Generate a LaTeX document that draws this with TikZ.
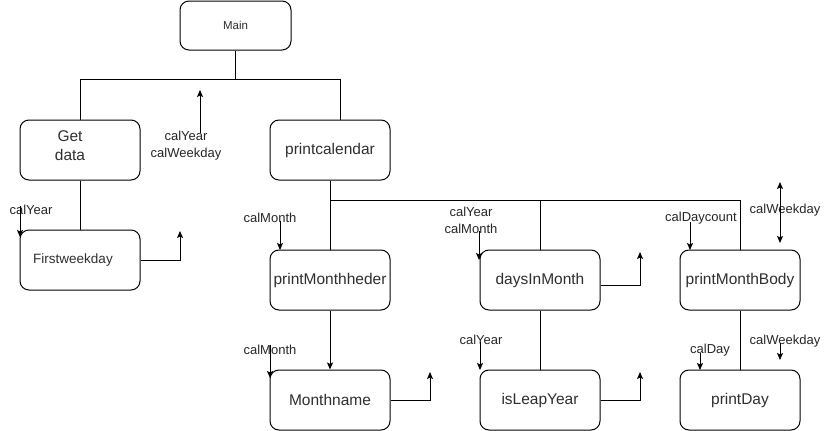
\documentclass[tikz,border=0pt]{standalone}
\usepackage{fontspec}
\setmainfont{Liberation Sans}
\usetikzlibrary{arrows.meta}

\begin{document}
\begin{tikzpicture}[x=1pt, y=-1pt, line width=1pt, >={Stealth[length=7pt,width=6pt,inset=1.5pt]},
  box/.style={draw, rounded corners=9pt, minimum width=120pt, minimum height=60pt, inner sep=2pt, align=center, text=black!82, font=\fontsize{15.5}{19}\selectfont},
  inbox/.style={align=center, text=black!82, font=\fontsize{15.5}{19}\selectfont},
  lbl/.style={inner sep=0pt, align=center, text=black!85, font=\fontsize{13}{17}\selectfont}]
\useasboundingbox (0,0) rectangle (831,431);
\node[box, minimum width=111pt, minimum height=49pt, font=\fontsize{11.5}{14}\selectfont] (Main) at (235.5,25.5) {Main};
\node[box, label={[inbox, xshift=-10pt, yshift=4pt]center:Get\\data}] (GetData) at (80,150) {};
\node[box, label={[inbox, xshift=-7pt, font=\fontsize{13.5}{16}\selectfont]center:Firstweekday}] (FirstWk) at (80,260) {};
\node[box] (PrintCal) at (330,150) {printcalendar};
\node[box] (MonHead) at (330,280) {printMonthheder};
\node[box] (DaysIn) at (540,280) {daysInMonth};
\node[box] (MonBody) at (740,280) {printMonthBody};
\node[box] (MonName) at (330,400) {Monthname};
\node[box] (LeapYr) at (540,400) {isLeapYear};
\node[box] (PrDay) at (740,400) {printDay};
% call tree
\draw (Main.south) -- ++(0,29) coordinate (mainBus);
\draw (GetData.north) |- (mainBus) -| ([xshift=10pt]PrintCal.north);
\draw (GetData.south) -- (FirstWk.north);
\draw (PrintCal.south) -- ++(0,20) coordinate (calBus);
\draw (calBus) -| (MonBody.north);
\draw (calBus) -- (MonHead.north);
\draw (DaysIn.north |- calBus) -- (DaysIn.north);
\draw[->] (MonHead.south) -- (MonName.north);
\draw (DaysIn.south) -- (LeapYr.north);
\draw (MonBody.south) -- (PrDay.north);
% passed values
\node[lbl] (lblYW) at (186,146) {calYear\\calWeekday};
\coordinate (ywFrom) at (200,133);
\coordinate (ywTip) at (200,90);
\draw[->] (ywFrom) -- (ywTip);
\node[lbl] (lblYearA) at (31,210) {calYear};
\coordinate (yaFrom) at (20,206);
\coordinate (yaTip) at (20,237);
\draw[->] (yaFrom) -- (yaTip);
\coordinate (fwTip) at (180,231);
\draw[->] (FirstWk.east) -| (fwTip);
\node[lbl] (lblMonA) at (270,218) {calMonth};
\coordinate (maFrom) at (280,221);
\coordinate (maTip) at (280,250);
\draw[->] (maFrom) -- (maTip);
\node[lbl] (lblYM) at (471,220) {calYear\\calMonth};
\coordinate (ymFrom) at (479,231);
\coordinate (ymTip) at (479,260);
\draw[->] (ymFrom) -- (ymTip);
\coordinate (diTip) at (640,252);
\draw[->] ([yshift=-5pt]DaysIn.east) -| (diTip);
\node[lbl] (lblCount) at (701,218) {calDaycount};
\coordinate (dcFrom) at (690,222);
\coordinate (dcTip) at (690,250);
\draw[->] (dcFrom) -- (dcTip);
\node[lbl] (lblWkA) at (785,210) {calWeekday};
\coordinate (waTop) at (780,182);
\coordinate (waBot) at (780,243);
\draw[<->] (waTop) -- (waBot);
\node[lbl] (lblMonB) at (270,350) {calMonth};
\coordinate (mbFrom) at (270,345);
\coordinate (mbTip) at (270,378);
\draw[->] (mbFrom) -- (mbTip);
\coordinate (mnTip) at (430,372);
\draw[->] (MonName.east) -| (mnTip);
\node[lbl] (lblYearB) at (481,340) {calYear};
\coordinate (ybFrom) at (480,342);
\coordinate (ybTip) at (480,370);
\draw[->] (ybFrom) -- (ybTip);
\coordinate (lyTip) at (640,372);
\draw[->] (LeapYr.east) -| (lyTip);
\node[lbl] (lblDay) at (710,350) {calDay};
\coordinate (cdFrom) at (700,353);
\coordinate (cdTip) at (700,370);
\draw[->] (cdFrom) -- (cdTip);
\node[lbl] (lblWkB) at (785,341) {calWeekday};
\coordinate (wbFrom) at (780,343);
\coordinate (wbTip) at (780,360);
\draw[->] (wbFrom) -- (wbTip);
\end{tikzpicture}
\end{document}
